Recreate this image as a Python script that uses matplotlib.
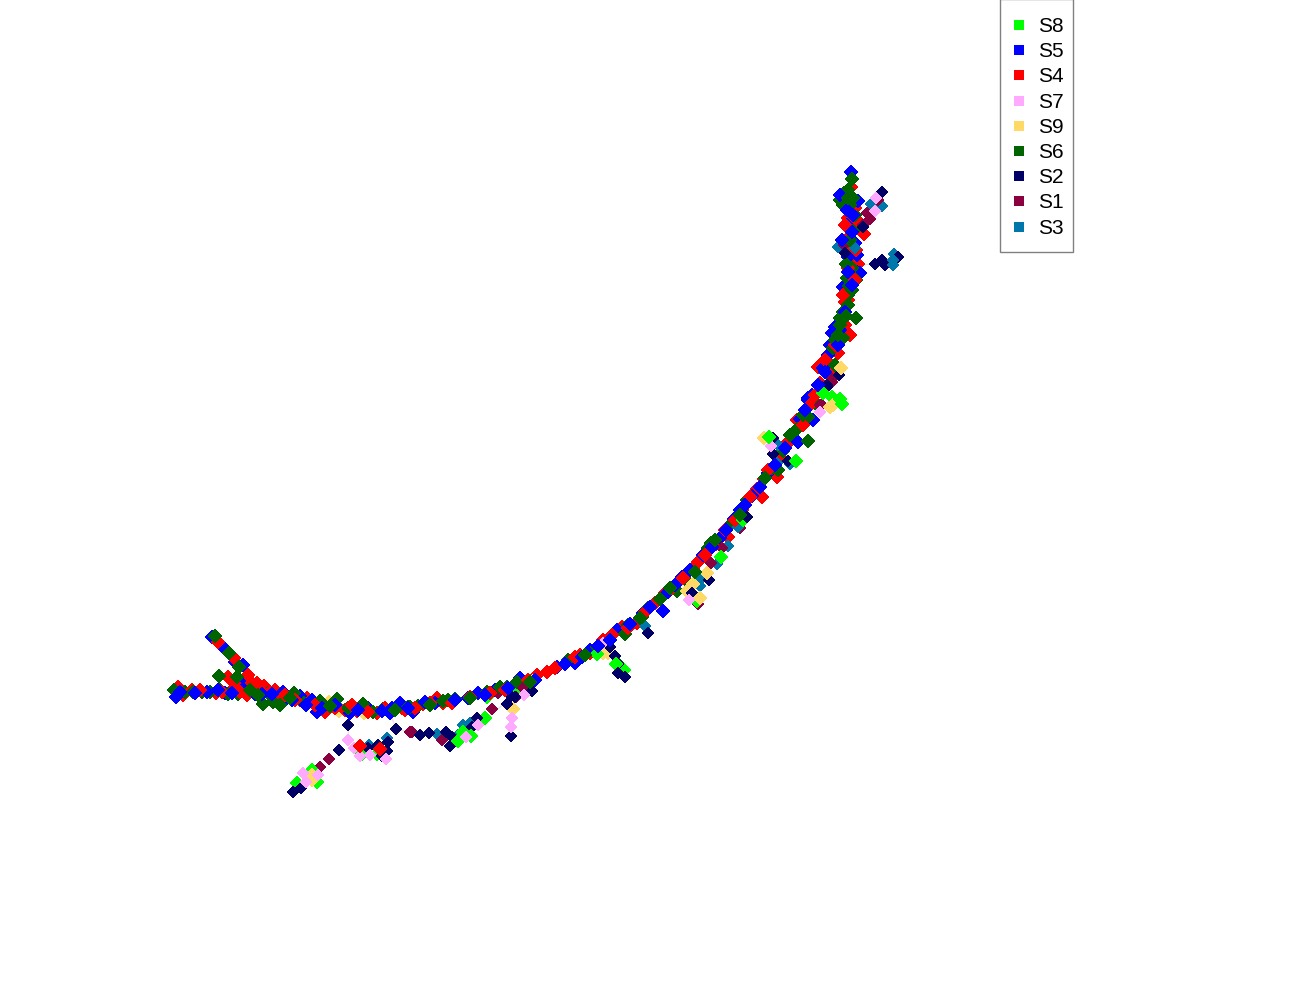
import matplotlib
matplotlib.use("Agg")
import matplotlib.pyplot as plt
from matplotlib.patches import Rectangle

# points per sample
s5 = [(212,637),(223,647),(235,662),(243,665),(244,682),(176,697),(207,692),(225,693),(242,690),(255,694),
      (283,692),(286,699),(300,696),(312,700),(317,712),(350,713),(368,708),(390,713),(397,706),(400,703),
      (413,712),(435,703),(468,698),(478,693),(495,690),(520,678),(527,683),(557,667),(575,663),(590,650),
      (617,630),(643,613),(663,611),(668,592),(682,577),(703,555),(720,538),(734,519),(740,510),(752,496),
      (768,473),(798,442),(800,419),(808,398),(813,420),(808,400),(812,395),(822,388),(823,368),(828,355),
      (830,345),(832,333),(835,327),(843,287),(848,257),(855,243),(857,255),(860,273),(857,272),(847,225),
      (845,205),(858,201),(851,172),
      (180,692),(195,693),(218,690),(232,693),(262,694),(272,694),(292,700),(306,705),(322,708),(335,705),
      (358,710),(382,711),(392,708),(408,708),(425,702),(455,700),(485,695),(508,688),(535,680),(565,664),
      (582,657),(598,646),(610,640),(630,624),(650,607),(675,585),(690,570),(712,547),(726,530),(745,505),
      (760,487),(775,465),(785,448),(805,410),(818,385),(825,372),(838,345),(840,330),(845,312),(852,285),
      (848,272),(842,240),(852,232),(853,215),(840,195),(847,210)]
s4 = [(178,687),(183,695),(192,690),(216,693),(218,642),(234,658),(228,677),(248,675),(234,683),(232,690),
      (247,695),(252,683),(257,683),(264,686),(275,690),(277,695),(300,700),(307,698),(323,708),(325,712),
      (345,710),(357,711),(360,746),(377,713),(380,749),(402,708),(405,710),(406,708),(423,704),(437,698),
      (443,703),(513,692),(537,675),(547,672),(567,662),(580,655),(590,653),(603,640),(622,627),(637,623),
      (655,603),(665,593),(677,583),(688,572),(693,568),(698,562),(716,544),(728,537),(742,510),(745,505),
      (757,489),(762,497),(764,479),(777,477),(780,457),(788,443),(792,438),(797,420),(820,384),(820,383),
      (828,372),(818,367),(828,362),(838,353),(850,335),(845,302),(848,300),(858,264),(852,260),(849,252),
      (852,243),(864,234),(859,222),(848,218),(855,208),(842,198),(851,187),
      (200,690),(222,692),(240,692),(260,690),(270,692),(285,695),(295,700),(315,705),(335,708),(352,705),
      (368,712),(385,708),(415,708),(430,703),(452,703),(470,697),(490,693),(505,690),(528,680),(555,668),
      (575,657),(612,635),(628,628),(645,612),(672,588),(683,578),(705,555),(725,530),(735,520),(750,497),
      (768,470),(785,445),(803,425),(810,405),(815,395),(825,360),(835,345),(845,325),(843,295),(855,280),
      (848,268),(856,250),(848,238),(845,225),(850,210),(850,195)]
s6 = [(174,690),(185,692),(193,692),(202,692),(210,692),(215,636),(229,653),(239,667),(219,676),(237,677),
      (220,690),(228,694),(238,694),(263,704),(268,693),(273,702),(280,705),(294,693),(304,703),(320,701),
      (337,699),(348,708),(363,704),(373,712),(383,709),(408,707),(410,707),(418,706),(443,701),(448,700),
      (455,699),(487,692),(500,687),(507,687),(517,682),(568,660),(597,647),(612,635),(625,634),(628,625),
      (617,663),(642,617),(648,608),(660,599),(677,591),(687,581),(708,548),(711,543),(725,530),(730,525),
      (747,500),(772,468),(778,470),(783,451),(797,429),(808,441),(808,417),(815,403),(815,403),(835,365),
      (833,348),(843,338),(842,328),(856,318),(842,323),(843,312),(848,295),(850,287),(855,279),(849,286),
      (847,278),(856,280),(852,268),(846,264),(853,231),(855,215),(853,198),(844,193),(852,179),
      (250,690),(258,695),(290,698),(330,706),(395,710),(430,705),(470,698),(530,682),(585,655),(640,618),
      (670,588),(695,572),(715,540),(740,515),(765,478),(790,435),(803,415),(835,340),(840,318),(848,305),
      (852,290),(843,205),(848,190),(850,240),(840,200),(850,205),(846,316),(840,325),(838,335),(848,198)]
s8 = [(362,754),(377,754),(297,783),(312,770),(317,782),(487,697),(518,691),(485,718),(463,732),(471,736),
      (458,741),(597,654),(624,670),(616,664),(721,557),(743,520),(697,601),(796,461),(769,437),(823,393),
      (832,397),(840,399),(842,404)]
s7 = [(348,740),(354,748),(360,756),(370,755),(386,759),(303,773),(318,775),(306,782),(478,725),(524,695),
      (512,718),(511,727),(466,737),(603,643),(771,446),(689,600),(820,412),(876,198),(875,211)]
s9 = [(329,702),(339,711),(364,713),(312,775),(312,780),(533,681),(513,709),(603,653),(608,653),(764,438),
      (693,584),(687,591),(707,573),(700,598),(830,407),(833,405),(841,368)]
s2 = [(348,725),(339,750),(368,748),(378,745),(388,742),(387,751),(382,756),(396,729),(293,792),(301,788),
      (420,735),(429,733),(446,732),(452,737),(450,746),(477,718),(472,727),(507,704),(511,696),(532,691),
      (511,736),(515,697),(610,647),(615,656),(618,664),(618,673),(625,677),(648,633),(709,580),(692,593),
      (773,438),(773,454),(788,461),(747,517),(827,385),(839,375),(827,387),(882,192),(875,264),(882,260),
      (885,265),(898,257),(845,253),(863,227)]
s1 = [(329,759),(320,767),(410,732),(412,732),(442,740),(492,709),(498,693),(523,688),(516,697),(711,563),
      (722,548),(698,604),(740,528),(822,405),(832,382),(832,379),(820,405),(867,213),(870,219),(878,200),
      (844,245),(863,225)]
s3 = [(387,738),(369,745),(338,706),(437,734),(463,725),(470,723),(458,735),(527,685),(645,626),(728,546),
      (717,564),(698,575),(700,580),(700,586),(738,527),(777,463),(778,445),(790,464),(838,247),(855,248),
      (871,204),(882,206),(894,254),(893,265),(893,260)]

names = ["S8", "S5", "S4", "S7", "S9", "S6", "S2", "S1", "S3"]
groups = [s8, s5, s4, s7, s9, s6, s2, s1, s3]
colors = ["#00ff00", "#0000ff", "#ff0000", "#ffaaff", "#ffd966",
          "#006400", "#000066", "#8b0040", "#0077aa"]
sizes = [46, 44, 46, 36, 46, 44, 32, 36, 38]
# red sits lower in the overlaps than the other samples
layer = [1, 1, 0.7, 1, 1, 1, 1, 1, 1]

# faint tree edges behind the markers
edges = [((860,265),(875,264)), ((348,725),(348,740)), ((396,729),(410,732)),
         ((390,713),(396,729)), ((478,725),(505,703))]

fig = plt.figure(figsize=(13, 10), dpi=100)
ax = fig.add_axes([0, 0, 1, 1])
ax.set_xlim(0, 1300)
ax.set_ylim(1000, 0)
ax.axis("off")

for a, b in edges:
    ax.plot([a[0], b[0]], [a[1], b[1]], color="#e6e6e6", lw=1, zorder=1)

# mix the samples along the curve so that they overlap each other
rows = []
for pts, col, sz, lay in zip(groups, colors, sizes, layer):
    for i, (x, y) in enumerate(pts):
        rows.append((lay * i / len(pts), x, y, col, sz))
rows.sort(key=lambda r: r[0])

ax.scatter([r[1] for r in rows], [r[2] for r in rows], c=[r[3] for r in rows],
           s=[r[4] for r in rows], marker="D", linewidths=0, antialiaseds=False, zorder=2)

# legend box drawn by hand, its padding is not symmetric
ax.add_patch(Rectangle((1000, -1), 73, 253, facecolor="white", edgecolor="#808080", lw=1, zorder=3))
for i, (name, col) in enumerate(zip(names, colors)):
    ypos = 25 + i * 25.2
    ax.scatter([1019], [ypos], s=52, marker="s", color=col, linewidths=0, zorder=4)
    ax.text(1038, ypos + 1.5, name, fontsize=15, family="Liberation Sans", va="center", ha="left",
            color="black", zorder=4)

fig.savefig("out.png", dpi=100)
